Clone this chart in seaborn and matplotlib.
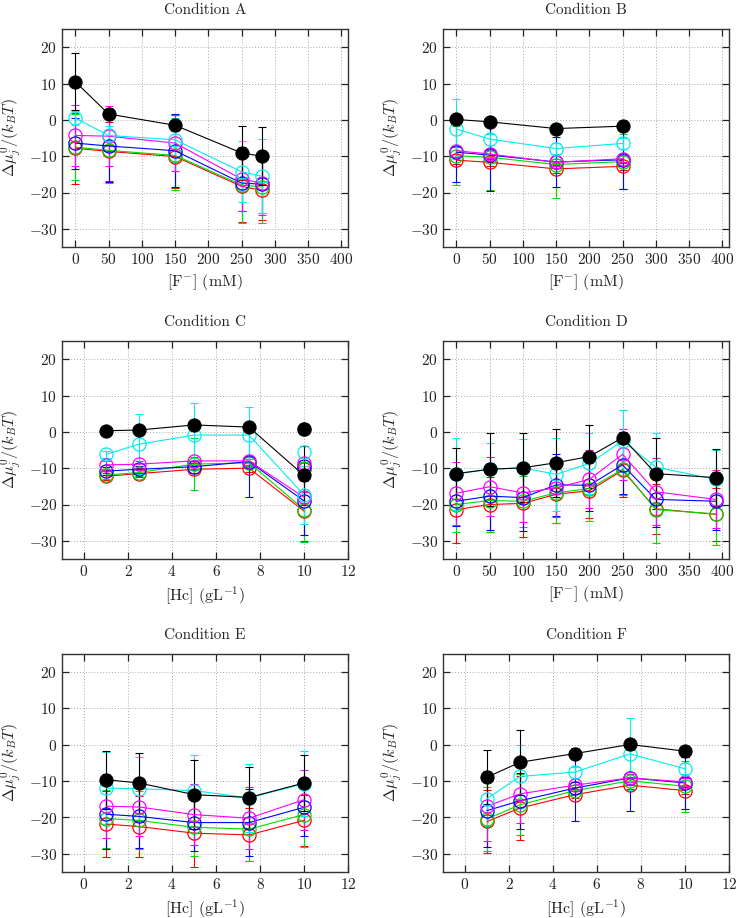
import matplotlib
matplotlib.use("Agg")
import matplotlib.pyplot as plt
import seaborn as sns
import numpy as np
import pandas as pd

# series order: red, green, blue, magenta, cyan, black (filled)
series = ["red", "green", "blue", "magenta", "cyan", "black"]
colors = {"red": "#ff0000", "green": "#00dd00", "blue": "#0000ff",
          "magenta": "#ff00ff", "cyan": "#00eeee", "black": "#000000"}

titles = ["Condition A", "Condition B", "Condition C",
          "Condition D", "Condition E", "Condition F"]
xlabel_F = r"$[\mathrm{F}^{-}]$ (mM)"
xlabel_Hc = r"[Hc] (gL$^{-1}$)"
ylabel = r"$\Delta\mu_j^0/(k_BT)$"

# ---- Condition A ----
A_x = [0, 50, 150, 250, 280]
A_y = {"red": [-7.8, -8.7, -10.1, -18.3, -19.4],
       "green": [-7.5, -8.4, -9.8, -17.9, -18.5],
       "blue": [-6.4, -7.2, -8.5, -17.4, -17.7],
       "magenta": [-4.3, -4.5, -6.4, -16.3, -17.4],
       "cyan": [0.5, -4.3, -5.5, -14.3, -15.5],
       "black": [10.5, 1.6, -1.5, -9.1, -10.0]}
A_err = {"red": [9.8, 8.0, 8.7, 9.7, 8.2],
         "green": [9.0, 9.0, 9.6, 10.4, 10.0],
         "blue": [7.0, 10.0, 10.0, 7.6, 8.0],
         "magenta": [8.3, 8.3, 7.6, 8.7, 8.8],
         "cyan": [2.0, 2.5, 6.0, 8.4, 10.2],
         "black": [7.8, 1.5, 1.5, 7.5, 8.0]}

# ---- Condition B ----
B_x = [0, 50, 150, 250]
B_y = {"red": [-11.1, -11.7, -13.5, -12.8],
       "green": [-9.9, -10.3, -12.3, -11.5],
       "blue": [-8.9, -9.7, -11.6, -11.0],
       "magenta": [-8.5, -9.4, -11.7, -10.7],
       "cyan": [-2.5, -5.3, -7.9, -6.5],
       "black": [0.1, -0.55, -2.4, -1.75]}
B_err = {"red": [1.0, 1.0, 1.0, 1.0],
         "green": [8.1, 9.0, 9.2, 7.5],
         "blue": [8.3, 9.8, 6.9, 8.0],
         "magenta": [1.0, 1.0, 1.0, 1.0],
         "cyan": [8.3, 1.5, 1.5, 1.5],
         "black": [1.0, 1.0, 1.0, 1.0]}

# ---- Condition C ----
C_x = [1, 2.5, 5, 7.5, 10]
C_y = {"red": [-12.2, -11.5, -10.3, -10.0, -21.8],
       "green": [-11.9, -11.2, -8.9, -8.5, -21.4],
       "blue": [-10.8, -10.3, -9.6, -8.2, -19.0],
       "magenta": [-9.1, -8.9, -8.0, -8.0, -18.0],
       "cyan": [-6.2, -3.4, -0.9, -0.9, -17.4],
       "black": [0.3, 0.5, 1.9, 1.3, -12.0]}
C_err = {"red": [1.0, 1.0, 1.0, 1.0, 8.3],
         "green": [1.0, 1.0, 7.1, 1.0, 9.0],
         "blue": [1.0, 1.0, 1.0, 9.6, 9.5],
         "magenta": [1.0, 1.0, 1.0, 1.0, 1.5],
         "cyan": [1.0, 8.3, 8.9, 7.7, 8.0],
         "black": [1.0, 1.0, 1.0, 1.0, 8.0]}
# unconnected points at [Hc] = 10
C_extra_x = 10
C_extra_y = {"red": -10.3, "green": -10.0, "blue": -9.3,
             "magenta": -8.7, "cyan": -5.6, "black": 0.7}

# ---- Condition D ----
D_x = [0, 50, 100, 150, 200, 250, 300, 390]
D_y = {"red": [-21.4, -20.0, -19.7, -17.2, -16.2, -10.6, -21.2, -22.7],
       "green": [-20.0, -18.9, -19.1, -16.8, -15.6, -10.3, -21.4, -22.6],
       "blue": [-19.1, -17.7, -18.1, -14.6, -14.7, -9.1, -18.6, -19.1],
       "magenta": [-16.9, -15.1, -16.8, -15.4, -13.1, -6.2, -16.5, -18.6],
       "cyan": [-11.6, -10.3, -9.9, -11.7, -8.7, -2.5, -9.7, -13.1],
       "black": [-11.5, -10.3, -9.9, -8.5, -6.8, -1.6, -11.5, -12.6]}
D_err = {"red": [9.3, 7.5, 9.3, 7.8, 7.5, 7.3, 6.8, 7.3],
         "green": [7.5, 8.6, 7.0, 8.2, 9.0, 7.0, 9.2, 8.6],
         "blue": [6.7, 9.2, 9.2, 8.5, 7.2, 8.1, 7.5, 8.0],
         "magenta": [8.7, 8.2, 8.0, 8.0, 8.0, 7.0, 9.2, 8.0],
         "cyan": [10.0, 7.2, 8.0, 10.0, 8.3, 8.5, 9.5, 8.0],
         "black": [7.0, 10.0, 9.5, 9.3, 8.6, 1.5, 9.8, 7.8]}

# ---- Condition E ----
E_x = [1, 2.5, 5, 7.5, 10]
E_y = {"red": [-21.8, -22.5, -24.3, -24.8, -20.8],
       "green": [-20.3, -20.8, -22.7, -23.2, -19.2],
       "blue": [-19.1, -19.7, -21.4, -21.4, -17.2],
       "magenta": [-16.9, -17.1, -19.2, -20.2, -15.1],
       "cyan": [-11.9, -12.1, -12.6, -14.6, -10.7],
       "black": [-9.6, -10.5, -13.7, -14.5, -10.5]}
E_err = {"red": [9.0, 8.3, 9.4, 7.3, 7.0],
         "green": [8.0, 8.0, 7.9, 8.9, 9.0],
         "blue": [9.5, 8.8, 7.7, 9.2, 7.8],
         "magenta": [8.8, 8.0, 8.5, 8.5, 8.3],
         "cyan": [10.0, 8.7, 9.7, 9.4, 9.0],
         "black": [8.0, 8.3, 9.4, 8.3, 7.6]}

# ---- Condition F ----
F_x = [1, 2.5, 5, 7.5, 10]
F_y = {"red": [-21.1, -17.4, -13.7, -11.1, -12.6],
       "green": [-20.4, -16.5, -12.6, -9.9, -11.4],
       "blue": [-18.1, -15.4, -11.9, -9.1, -10.5],
       "magenta": [-16.9, -13.5, -11.1, -9.1, -10.2],
       "cyan": [-14.8, -8.7, -7.5, -2.5, -6.6],
       "black": [-8.9, -4.8, -2.4, 0.1, -1.75]}
F_err = {"red": [8.7, 8.7, 1.0, 1.0, 1.0],
         "green": [8.7, 8.4, 1.0, 1.0, 7.0],
         "blue": [10.0, 7.7, 9.2, 9.2, 7.1],
         "magenta": [9.7, 8.0, 1.0, 1.0, 1.0],
         "cyan": [7.5, 8.7, 1.5, 10.0, 1.5],
         "black": [7.4, 9.0, 1.5, 1.5, 1.5]}

panels = [(A_x, A_y, A_err, xlabel_F, "F"),
          (B_x, B_y, B_err, xlabel_F, "F"),
          (C_x, C_y, C_err, xlabel_Hc, "Hc"),
          (D_x, D_y, D_err, xlabel_F, "F"),
          (E_x, E_y, E_err, xlabel_Hc, "Hc"),
          (F_x, F_y, F_err, xlabel_Hc, "Hc")]

sns.set_theme(style="ticks")
plt.rcParams["font.family"] = ["cmr10", "DejaVu Serif"]
plt.rcParams["mathtext.fontset"] = "cm"
plt.rcParams["axes.formatter.use_mathtext"] = True
plt.rcParams["axes.unicode_minus"] = True

fig = plt.figure(figsize=(7.43, 9.18), dpi=100)

W, H = 743, 918
lefts = [62, 443]
tops = [29, 341, 654]
aw, ah = 286, 218
MS = 9.5

for i, (xs, ys, errs, xlab, kind) in enumerate(panels):
    row, col = divmod(i, 2)
    ax = fig.add_axes([lefts[col] / W, 1 - (tops[row] + ah) / H, aw / W, ah / H])

    rows = []
    for s in series:
        for x, y in zip(xs, ys[s]):
            rows.append({"x": x, "y": y, "series": s})
    df = pd.DataFrame(rows)

    for s in series:
        sub = df[df["series"] == s]
        c = colors[s]
        ax.errorbar(sub["x"], sub["y"], yerr=errs[s], fmt="none", ecolor=c,
                    elinewidth=0.8, capsize=2.8, capthick=0.8, zorder=2)
        if s == "black":
            sns.lineplot(data=sub, x="x", y="y", ax=ax, color=c, lw=0.8,
                         marker="o", markersize=MS, markerfacecolor=c,
                         markeredgecolor=c, zorder=4, legend=False)
        else:
            sns.lineplot(data=sub, x="x", y="y", ax=ax, color=c, lw=0.8,
                         marker="o", markersize=MS, markerfacecolor="none",
                         markeredgecolor=c, markeredgewidth=0.9, zorder=3,
                         legend=False)

    if i == 2:
        for s in series:
            c = colors[s]
            if s == "black":
                ax.plot([C_extra_x], [C_extra_y[s]], "o", ms=MS, color=c, zorder=4)
            else:
                ax.plot([C_extra_x], [C_extra_y[s]], "o", ms=MS, mfc="none",
                        mec=c, mew=0.9, zorder=3)

    if kind == "F":
        ax.set_xlim(-20, 410)
        ax.set_xticks(np.arange(0, 401, 50))
    else:
        ax.set_xlim(-1, 12)
        ax.set_xticks(np.arange(0, 13, 2))
    ax.set_ylim(-35, 25)
    ax.set_yticks(np.arange(-30, 21, 10))

    ax.grid(True, linestyle=(0, (1, 2)), color="#aaaaaa", linewidth=0.7)
    ax.tick_params(direction="in", top=True, right=True, length=5,
                   width=0.9, labelsize=11, colors="#222222")
    for sp in ax.spines.values():
        sp.set_color("#333333")
        sp.set_linewidth(1.0)

    ax.set_xlabel(xlab, fontsize=11.5, labelpad=4)
    ax.set_ylabel(ylabel, fontsize=11.5, labelpad=4)
    ax.set_title(titles[i], fontsize=11, pad=11)

fig.savefig("out.png", dpi=100)
